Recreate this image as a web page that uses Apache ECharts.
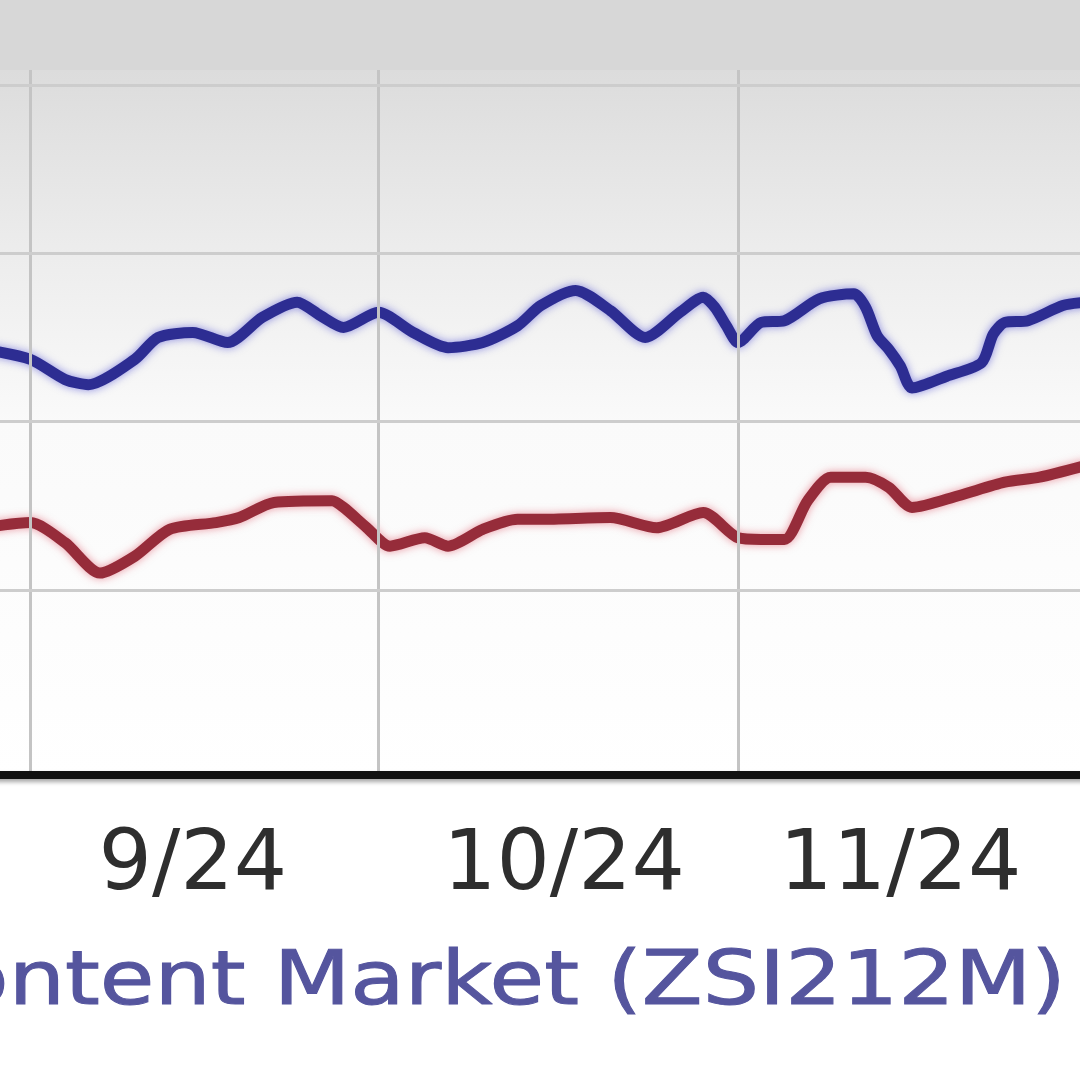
<!DOCTYPE html>
<html><head><meta charset="utf-8">
<style>html,body{margin:0;padding:0;background:#fff}#c{width:1080px;height:1080px}</style>
<script src="https://cdn.jsdelivr.net/npm/echarts@6/dist/echarts.min.js"></script>
</head><body><div id="c"></div>
<script>
// ---- data ----
const blueDates = ['2024-08-28','2024-09-01','2024-09-04','2024-09-06','2024-09-10','2024-09-12','2024-09-15','2024-09-18','2024-09-21','2024-09-24','2024-09-26','2024-09-28','2024-10-01','2024-10-04','2024-10-07','2024-10-10','2024-10-13','2024-10-15','2024-10-18','2024-10-21','2024-10-24','2024-10-27','2024-10-29','2024-10-30','2024-10-31','2024-11-01','2024-11-03','2024-11-05','2024-11-08','2024-11-11','2024-11-12','2024-11-13','2024-11-14','2024-11-15','2024-11-16','2024-11-19','2024-11-22','2024-11-23','2024-11-24','2024-11-26','2024-11-29','2024-12-01'];
const blueValues = [14.3,13.7,12.5,12.2,13.7,15.0,15.3,14.7,16.2,17.1,16.3,15.6,16.5,15.3,14.4,14.7,15.7,16.9,17.8,16.6,15.0,16.5,17.4,16.8,15.7,14.7,15.9,16.0,17.3,17.6,16.8,15.1,14.3,13.3,12.0,12.7,13.5,15.2,15.9,16.0,16.9,17.1];
const redDates = ['2024-08-28','2024-09-01','2024-09-04','2024-09-07','2024-09-10','2024-09-13','2024-09-17','2024-09-19','2024-09-22','2024-09-27','2024-09-28','2024-09-30','2024-10-02','2024-10-05','2024-10-07','2024-10-10','2024-10-13','2024-10-15','2024-10-21','2024-10-25','2024-10-29','2024-11-01','2024-11-03','2024-11-05','2024-11-07','2024-11-09','2024-11-12','2024-11-14','2024-11-16','2024-11-20','2024-11-24','2024-11-27','2024-12-01'];
const redValues = [3.7,4.0,2.8,1.0,2.0,3.6,4.0,4.3,5.2,5.3,4.9,3.7,2.6,3.1,2.6,3.6,4.2,4.2,4.3,3.7,4.6,3.1,3.0,3.0,5.3,6.7,6.7,6.1,4.9,5.6,6.4,6.7,7.4];
const yGridValues = [0, 10, 20, 30];
const tickLabelDates = ['2024-09-15','2024-10-17','2024-11-15'];
const tickLabelTexts = ['9/24','10/24','11/24'];
const legendText = 'Internet - Content Market (ZSI212M)';

// ---- calendar categories (Aug 28 .. Dec 1, 2024) ----
const categories = [];
const monthLens = {8:31, 9:30, 10:31, 11:30, 12:31};
let m = 8, d = 28;
while (true) {
  const s = '2024-' + String(m).padStart(2,'0') + '-' + String(d).padStart(2,'0');
  categories.push(s);
  if (m === 12 && d === 1) break;
  d++; if (d > monthLens[m]) { d = 1; m++; }
}
const labelMap = {};
tickLabelDates.forEach((dt, i) => labelMap[dt] = tickLabelTexts[i]);

const chart = echarts.init(document.getElementById('c'), null, {renderer: 'canvas'});
chart.setOption({
  animation: false,
  backgroundColor: '#d7d7d7',
  grid: {
    left: -16, right: -6, top: 70, bottom: 305,
    show: true, borderWidth: 0,
    backgroundColor: new echarts.graphic.LinearGradient(0, 0, 0, 1, [
      {offset: 0, color: '#dcdcdc'},
      {offset: 0.25, color: '#ececec'},
      {offset: 0.5, color: '#fafafa'},
      {offset: 1, color: '#ffffff'}
    ]),
    outerBoundsMode: 'none'
  },
  graphic: [
    {type: 'rect', left: 0, top: 775, shape: {width: 1080, height: 305}, style: {fill: '#ffffff'}, z: -10, silent: true},
    {type: 'text', x: 1066, y: 985, scaleX: 1.2, scaleY: 1,
     style: {text: legendText, align: 'right', verticalAlign: 'middle', fill: '#55559e',
             font: '74px "DejaVu Sans"', stroke: '#55559e', lineWidth: 1}, z: 10}
  ],
  xAxis: {
    type: 'category', data: categories, boundaryGap: false,
    axisLine: {show: true, onZero: false, lineStyle: {color: '#111', width: 8, shadowColor: 'rgba(0,0,0,0.35)', shadowBlur: 4, shadowOffsetY: 3}},
    axisTick: {show: false},
    splitLine: {show: true, interval: (i, v) => v.slice(8) === '01', lineStyle: {color: '#c4c4c4', width: 3}},
    axisLabel: {
      show: true, interval: (i, v) => labelMap[v] !== undefined,
      formatter: v => labelMap[v] || '', color: '#2e2e2e',
      fontFamily: 'DejaVu Sans', fontSize: 84, margin: 50
    },
    z: 5
  },
  yAxis: {
    type: 'value', min: -11, max: 30.9, show: false, splitLine: {show: false}
  },
  series: [
    {type: 'line', data: [], z: 1, silent: true,
     markLine: {silent: true, symbol: 'none', label: {show: false}, animation: false,
       lineStyle: {color: '#cdcdcd', width: 3, type: 'solid'},
       data: yGridValues.map(v => ({yAxis: v}))}},
    {type: 'line', name: 'blue', data: blueDates.map((dt, i) => [dt, blueValues[i]]),
     symbol: 'none', smooth: 0.25, z: 3,
     lineStyle: {color: '#2d2d92', width: 11, shadowColor: 'rgba(70,70,210,0.6)', shadowBlur: 9}},
    {type: 'line', name: 'red', data: redDates.map((dt, i) => [dt, redValues[i]]),
     symbol: 'none', smooth: 0.25, z: 3,
     lineStyle: {color: '#962c3a', width: 11, shadowColor: 'rgba(220,70,90,0.55)', shadowBlur: 9}}
  ]
});
</script></body></html>
